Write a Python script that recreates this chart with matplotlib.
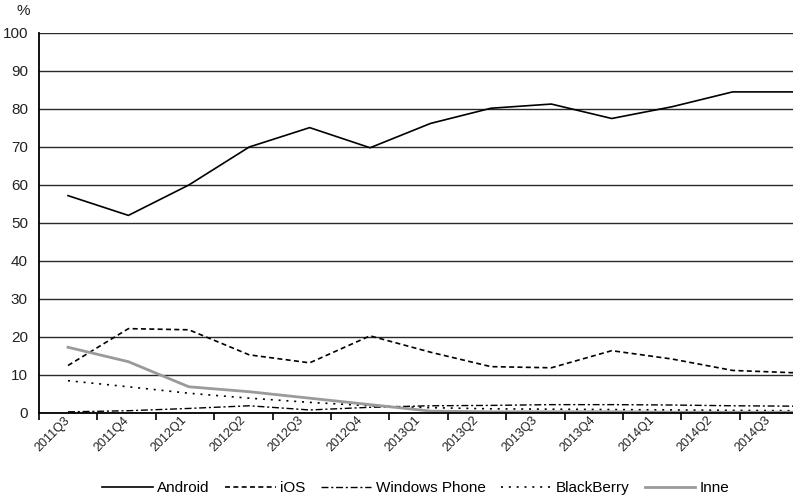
import numpy as np
import matplotlib
matplotlib.use("Agg")
import matplotlib.pyplot as plt
from matplotlib.ticker import FixedLocator, NullFormatter, FixedFormatter

plt.rcParams['font.family'] = ['Liberation Sans', 'DejaVu Sans']

quarters = ["2011Q3", "2011Q4", "2012Q1", "2012Q2", "2012Q3", "2012Q4", "2013Q1",
            "2013Q2", "2013Q3", "2013Q4", "2014Q1", "2014Q2", "2014Q3"]

android = [57.2, 52.0, 60.0, 70.0, 75.1, 69.8, 76.2, 80.2, 81.3, 77.5, 80.6, 84.5, 84.5]
ios = [12.5, 22.2, 21.9, 15.3, 13.2, 20.3, 16.0, 12.2, 11.9, 16.4, 14.2, 11.2, 10.6]
windows_phone = [0.3, 0.6, 1.2, 1.9, 0.8, 1.5, 1.9, 2.0, 2.2, 2.2, 2.1, 1.9, 1.8]
blackberry = [8.5, 6.9, 5.2, 3.9, 2.8, 1.9, 1.4, 1.1, 1.0, 0.9, 0.8, 0.7, 0.6]
inne = [17.3, 13.5, 6.9, 5.6, 3.9, 2.2, 0.5, 0.3, 0.3, 0.3, 0.2, 0.2, 0.2]

fig = plt.figure(figsize=(7.93, 4.97), dpi=100)
ax = fig.add_axes([39 / 793, 1 - 413 / 497, 1 - 39 / 793, 380 / 497])

x = np.arange(len(quarters))
ax.plot(x, android, color='black', lw=1.2, ls='-', label='Android')
ax.plot(x, ios, color='black', lw=1.2, ls=(0, (3, 2)), label='iOS')
ax.plot(x, windows_phone, color='black', lw=1.0, ls=(0, (5, 2, 1.5, 2)), label='Windows Phone')
ax.plot(x, blackberry, color='black', lw=1.2, ls=(0, (1.2, 3.5)), label='BlackBerry')
ax.plot(x, inne, color='#9a9a9a', lw=2.0, ls='-', label='Inne')

ax.set_xlim(-0.48, 12.0)
ax.set_ylim(0, 100)
ax.set_yticks(np.arange(0, 101, 10))
ax.tick_params(axis='y', length=0, pad=8, labelsize=11, colors='#222222')
ax.set_xticks([])
ax.grid(axis='y', color='#2a2a2a', lw=1.0)
ax.set_axisbelow(True)
for side in ['top', 'right']:
    ax.spines[side].set_visible(False)
ax.spines['left'].set_color('black')
ax.spines['left'].set_linewidth(1.3)
ax.spines['bottom'].set_color('black')
ax.spines['bottom'].set_linewidth(1.3)

# category axis for the quarter labels
axc = ax.twiny()
axc.set_xlim(-0.5, 12.41)
axc.xaxis.set_ticks_position('bottom')
axc.xaxis.set_label_position('bottom')
axc.xaxis.set_major_locator(FixedLocator(np.arange(-0.5, len(quarters), 1.0)))
axc.xaxis.set_major_formatter(NullFormatter())
axc.xaxis.set_minor_locator(FixedLocator(np.arange(len(quarters))))
axc.xaxis.set_minor_formatter(FixedFormatter(quarters))
axc.tick_params(axis='x', which='major', direction='out', length=5, width=1.2, color='black')
axc.tick_params(axis='x', which='minor', length=0, pad=4, labelsize=9, colors='#222222')
for lbl in axc.xaxis.get_minorticklabels():
    lbl.set_rotation(45)
    lbl.set_ha('right')
    lbl.set_va('center')
    lbl.set_rotation_mode('anchor')
for side in ['top', 'right', 'left', 'bottom']:
    axc.spines[side].set_visible(False)

ax.text(-0.012, 1.04, '%', transform=ax.transAxes, ha='right', va='bottom',
        fontsize=11, color='#222222')

ax.legend(loc='center', bbox_to_anchor=(0.5, -0.197), ncol=5, frameon=False,
          fontsize=11, handlelength=3.3, handletextpad=0.3, columnspacing=1.0)

fig.savefig('out.png', dpi=100)
